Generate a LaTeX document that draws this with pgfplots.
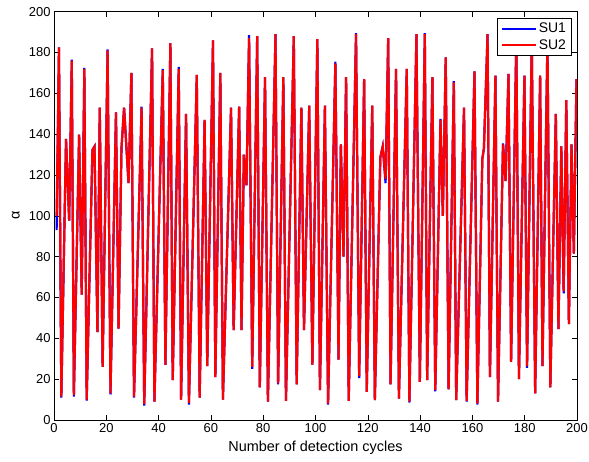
\documentclass[border=0pt]{standalone}
\usepackage{fontspec}
\setmainfont{Liberation Sans}
\usepackage{pgfplots}
\usepackage{pgfplotstable}
\pgfplotsset{compat=1.18}
\pgfplotstableread{
x su1 su2
1 93 100
1.9 182.5 182.5
2.8 11 11.5
4.6 137.7 137.7
5.8 97.7 97.7
6.8 176.5 176
7.6 11.5 12.2
9.6 139.8 139.8
10.6 61.4 61.4
11.6 172.5 172
12.5 9.5 10
14.7 132.3 132.3
15.5 134 134
16.6 43 43
17.5 153 153
18.6 26 26
20.5 181.5 181
21.6 12.5 13
23.7 150.7 150.7
24.7 44.8 44.8
25.8 133 133
26.8 153 153
28.5 116 116
29.6 170 170
30.6 11 11.4
33.5 153.5 153
34.5 7 7.8
37.5 182 182
38.4 9 9
41.6 172 171.4
42.6 27 27
44.5 184.6 184.6
45.4 19.5 19.5
47.7 173 172
48.6 10 10
50.5 150 150
51.6 7.5 8.4
54.6 169 169
55.7 11 11
57.6 147 147
58.6 26.4 26.4
60.8 186 186
61.7 21 21
63.6 170 170
64.6 10 10
67.7 153 153
68.7 44 44
70.8 153.5 153.5
71.7 44 44
72.6 130 130
73.6 115 115
74.6 188.5 187
75.8 25 26
77.7 188 188
78.7 16 16
80.7 168 168
81.8 9 9
84.7 189 189
85.7 17.5 18
87.7 168 168
88.7 9.4 9.4
91.7 188 188
92.8 17.5 17.5
94.6 153 153
95.6 44 44
97.6 154 154
98.8 27 27
100.7 186.6 186.6
101.7 14.6 14.6
103.6 154 154
104.8 7.5 8
107.6 175.5 174.7
108.8 29.6 29.6
109.7 135 135
110.7 80 80
111.7 168 168
112.7 9.4 9.4
115.5 189.5 189
116.7 20.5 21.5
118.6 167 167
119.6 13.8 13.8
121.7 154 154
122.7 9.8 9.8
124.8 128.7 128.7
125.7 134 134
126.8 116 118
127.8 187 187
128.7 17.5 17.5
130.8 172 172
131.9 10.5 10.5
134.9 172 172
135.9 8.5 9
138.6 189 189
139.9 18.7 18.7
141.8 189.5 189
142.7 19.5 19.5
144.7 168 168
145.8 14 14.6
147.8 147.5 147
148.7 100 100
149.8 177.6 177.6
150.9 15 15
152.9 166 165.4
153.8 9.8 9.8
156.8 153 153
157.8 9 9.4
160.8 170.8 170.8
161.9 7.5 8
163.8 128 128
164.4 133 133
165.8 189 189
166.7 21 21
168.8 168.7 168.7
169.8 9 9
171.7 135.5 135
172.7 117 117
173.8 169.5 169.5
174.8 28.5 28.5
176.8 188 188
177.8 20 20
179.9 168.7 168.7
180.9 25.5 26.4
182.7 186 186
184 13 13
185.9 168.7 168.7
186.8 26.4 26.4
188.7 186.5 186
189.8 16 16
191.9 150 150
192.9 44.5 44.5
194 134 134
194.9 62 63
195.9 156.7 156.7
196.9 47 47
197.9 135 135
198.8 81.5 81.5
199.8 167 167
}\datatable
\begin{document}
\begin{tikzpicture}
\useasboundingbox (0,0) rectangle (589bp,462bp);
\begin{axis}[
  at={(54bp,42bp)}, anchor=south west,
  scale only axis, width=523bp, height=408.3bp,
  xmin=0, xmax=200, ymin=0, ymax=200,
  xtick={0,20,...,200}, ytick={0,20,...,200},
  tick align=inside, tick pos=both,
  major tick length=5bp,
  axis line style={line width=0.8bp},
  every tick/.style={black, line width=0.6bp},
  /pgf/number format/assume math mode=true,
  tick label style={font=\fontsize{13}{15}\selectfont},
  xlabel={Number of detection cycles},
  ylabel={α},
  label style={font=\fontsize{14.5}{16}\selectfont},
  xlabel style={at={(axis description cs:0.5,-0.0686)}, anchor=center},
  ylabel style={at={(axis description cs:-0.073,0.502)}, anchor=center},
  legend style={at={(0.99,0.984)}, anchor=north east, draw=black, line width=0.6bp,
    fill=white, font=\fontsize{14}{16}\selectfont, inner xsep=4bp, inner ysep=3bp,
    nodes={inner sep=1.5bp}, row sep=2bp},
  legend cell align=left,
  legend image code/.code={\draw[#1] (0bp,0bp) -- (34bp,0bp);},
]
\addplot[blue, line width=2.2bp] table[x=x, y=su1] {\datatable};
\addlegendentry{SU1}
\addplot[red, line width=2.2bp] table[x=x, y=su2] {\datatable};
\addlegendentry{SU2}
\end{axis}
\end{tikzpicture}
\end{document}
